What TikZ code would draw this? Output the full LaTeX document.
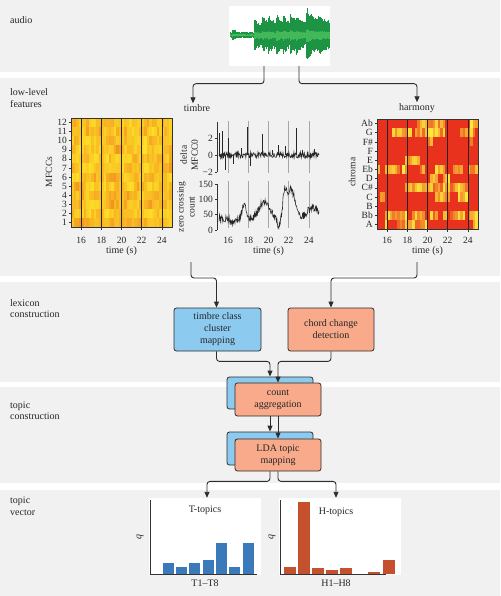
\documentclass[tikz,border=0pt]{standalone}
\usepackage{fontspec}
\setmainfont{Liberation Serif}
\usetikzlibrary{arrows.meta}
\definecolor{bandgray}{RGB}{241,241,241}
\definecolor{linec}{RGB}{45,45,45}
\definecolor{wdark}{RGB}{28,148,68}
\definecolor{wlight}{RGB}{66,184,88}
\definecolor{mY}{RGB}{255,236,40}
\definecolor{mO}{RGB}{240,128,30}
\definecolor{cY}{RGB}{255,240,60}
\definecolor{cR}{RGB}{232,50,30}
\definecolor{boxblue}{RGB}{140,202,240}
\definecolor{boxorange}{RGB}{248,170,138}
\definecolor{barblue}{RGB}{58,122,186}
\definecolor{barred}{RGB}{196,80,46}
\begin{document}
\begin{tikzpicture}[x=1pt,y=-1pt,
  every node/.style={font=\fontsize{10}{11.5}\selectfont, text=black!85},
  bandlabel/.style={anchor=west, align=left, inner sep=0pt},
  conn/.style={draw=linec, line width=0.9pt, rounded corners=3pt, -{Triangle[length=6pt,width=5pt]}},
  procbox/.style={draw=linec, line width=0.8pt, rounded corners=2.5pt, minimum width=86pt, align=center, inner sep=0pt, font=\fontsize{10}{12}\selectfont},
  tick/.style={inner sep=0pt, font=\fontsize{9.5}{10}\selectfont},
  rlabel/.style={rotate=90, align=center, inner sep=0pt, font=\fontsize{9.5}{11}\selectfont},
  axisline/.style={draw=black!80, line width=0.5pt},
  vline/.style={draw=black!85, line width=0.8pt},
  gline/.style={draw=black!35, line width=0.5pt},
  chart/.style={fill=white, inner sep=0pt, minimum height=77pt},
  declare function={gs(\t,\m,\s)=exp(-min(((\t-\m)/\s)^2,50));
                    ons(\t,\o,\a)=(\t>\o)*\a*exp(-max(\t-\o,0)/6);}
]
\useasboundingbox (0,0) rectangle (500,596);
\fill[white] (0,0) rectangle (500,596);
% bands
\fill[bandgray] (0,0) rectangle (500,72);
\fill[bandgray] (0,78) rectangle (500,276);
\fill[bandgray] (0,282) rectangle (500,382);
\fill[bandgray] (0,387) rectangle (500,483);
\fill[bandgray] (0,490) rectangle (500,596);
% band labels
\node[bandlabel] (lbaudio) at (10,20) {audio};
\node[bandlabel] (lbfeat) at (10,98) {low-level\\features};
\node[bandlabel] (lblex) at (10,308.5) {lexicon\\construction};
\node[bandlabel] (lbtc) at (10,410.5) {topic\\construction};
\node[bandlabel] (lbtv) at (10,506) {topic\\vector};

% ---------- audio ----------
\node[fill=white, minimum width=101pt, minimum height=60pt, inner sep=0pt] (audio) at (279.5,36) {};
\pgfmathsetseed{7}
\foreach \i in {0,...,197}{
  \pgfmathsetmacro\xx{230.5+\i*0.5}
  \pgfmathsetmacro\env{3+(\xx>232)*(\xx<236)*3+(\xx>254)*7+ons(\xx,254,8)+ons(\xx,262,9)+ons(\xx,268,8)+ons(\xx,276,10)+ons(\xx,283,7)+ons(\xx,290,10)+ons(\xx,296,8)+ons(\xx,306,15)+(\xx>306)*4+ons(\xx,318,6)}
  \pgfmathsetmacro\h{\env*(0.72+0.28*rnd)}
  \pgfmathsetmacro\hb{\env*(0.68+0.32*rnd)}
  \draw[wdark, line width=0.55pt] (\xx,{35-\h}) -- (\xx,{35+0.95*\hb});
  \draw[wlight, line width=0.55pt] (\xx,{35-0.22*\h}) -- (\xx,{35+0.28*\hb});
}

% ---------- labels timbre / harmony ----------
\node[inner sep=1pt] (timbre) at (197,108) {timbre};
\node[inner sep=1pt] (harmony) at (417,108) {harmony};
\draw[conn] ([xshift=-15.5pt]audio.south) -- ++(0,17.5) -| ([xshift=-4pt]timbre.north);
\draw[conn] ([xshift=19.5pt]audio.south) -- ++(0,17.5) -| (harmony.north);

% ---------- MFCC heatmap ----------
\foreach \r in {1,...,12}{
  \xdef\prevp{70}
  \foreach \c in {0,...,39}{
    \pgfmathtruncatemacro\p{0.45*\prevp+0.55*100*rnd^0.6}
    \xdef\prevp{\p}
    \fill[mY!\p!mO] ({71+\c*2.525},{227-\r*9.0833}) rectangle ++(2.6,9.12);
  }
  \draw[axisline] (71,{227-(\r-0.5)*9.0833}) -- ++(-2.5,0);
  \node[tick, anchor=east] at (67,{227-(\r-0.5)*9.0833}) {\r};
}
\foreach \t in {16,18,...,24}{
  \draw[vline] ({71+(\t-15)*10.1},118) -- ({71+(\t-15)*10.1},227);
  \draw[axisline] ({71+(\t-15)*10.1},227) -- ++(0,2.5);
  \node[tick] at ({71+(\t-15)*10.1},240) {\t};
}
\draw[axisline] (71,118) rectangle (172,227);
\node (mfcclab) at (121.5,251) {time (s)};
\node[rlabel] (mfccy) at (49,172) {MFCCs};

% ---------- chroma heatmap ----------
\foreach \nm/\th [count=\i] in {Ab/.1,G/.75,F\#/.08,F/.05,E/.05,Eb/.75,D/.12,C\#/.05,C/.25,B/.12,Bb/.5,A/.15}{
  \xdef\prevon{0}
  \foreach \c in {0,...,39}{
    \pgfmathtruncatemacro\on{\prevon==1 ? (rnd<0.8) : (rnd<\th*0.55)}
    \xdef\prevon{\on}
    \pgfmathtruncatemacro\p{\on*(25+75*rnd)}
    \fill[cY!\p!cR] ({377+\c*2.525},{119+(\i-1)*9.1667}) rectangle ++(2.6,9.2);
  }
  \draw[axisline] (377,{119+(\i-0.5)*9.1667}) -- ++(-2.5,0);
  \node[tick, anchor=east] at (373,{119+(\i-0.5)*9.1667}) {\nm};
}
\foreach \t in {16,18,...,24}{
  \draw[vline] ({377+(\t-15)*10.1},119) -- ({377+(\t-15)*10.1},229);
  \draw[axisline] ({377+(\t-15)*10.1},229) -- ++(0,2.5);
  \node[tick] at ({377+(\t-15)*10.1},240) {\t};
}
\draw[axisline] (377,119) rectangle (478,229);
\node (chromalab) at (427.5,251) {time (s)};
\node[rlabel] (chromay) at (352,172) {chroma};

% ---------- middle plots ----------
\foreach \t in {16,18,...,24}{
  \draw[gline] ({218+(\t-15)*10.1},121) -- ({218+(\t-15)*10.1},173);
  \draw[gline] ({218+(\t-15)*10.1},181) -- ({218+(\t-15)*10.1},228);
  \node[tick] at ({218+(\t-15)*10.1},240) {\t};
}
\node (midlab) at (268.5,251) {time (s)};
% delta MFCC0
\draw[black!85, line width=0.6pt] plot[domain=15.1:25, samples=240] ({218+(\x-15)*10.1},{155-8.5*0.35*rand});
\foreach \t/\v in {15.1/2.6,15.4/2.8,15.7/-1.8,16.0/2.0,16.5/-1.0,17.3/0.8,17.9/3.3,18.2/-1.3,19.4/2.5,20.4/0.6,21.0/1.2,21.7/1.0,22.8/3.2,23.3/0.6,24.5/0.7}{
  \draw[black!85, line width=0.6pt] ({218+(\t-15)*10.1},155) -- ({218+(\t-15)*10.1},{155-8.5*\v});
}
\draw[axisline] (217,122) -- (217,172);
\foreach \v/\lab in {2/2,0/0,-2/−2}{
  \draw[axisline] (217,{155-8.5*\v}) -- ++(-2.5,0);
  \node[tick, anchor=east] at (213,{155-8.5*\v}) {\lab};
}
\node[rlabel] (dlab) at (189,155) {delta\\MFCC0};
% zero crossing
\draw[black!85, line width=0.6pt]
  plot[domain=15.1:25, samples=220] ({218+(\x-15)*10.1},
  {230-0.307*(38+45*gs(\x,17.6,0.3)+55*gs(\x,19.6,0.7)+95*gs(\x,22.2,0.6)+60*gs(\x,21.6,0.25)+35*gs(\x,24.4,0.8)-15*gs(\x,16.5,0.3)-25*gs(\x,21.0,0.25)+12*rand)});
\draw[axisline] (217,184) -- (217,230);
\foreach \v in {0,50,100,150}{
  \draw[axisline] (217,{230-0.307*\v}) -- ++(-2.5,0);
  \node[tick, anchor=east] at (213,{230-0.307*\v}) {\v};
}
\node[rlabel] (zlab) at (186,207) {zero crossing\\count};

% ---------- lexicon ----------
\coordinate (tout) at (191,262);
\coordinate (hout) at (417,262);
\node[procbox, fill=boxblue, minimum width=87pt, minimum height=43pt] (tbox) at (217.5,329.5) {timbre class\\cluster\\mapping};
\node[procbox, fill=boxorange, minimum width=86pt, minimum height=43pt] (cbox) at (331,329.5) {chord change\\detection};
\draw[conn] (tout) -- ++(0,16) -| ([xshift=-1pt]tbox.north);
\draw[conn] (hout) -- ++(0,16) -| (cbox.north);

% ---------- topic construction ----------
\node[procbox, fill=boxblue, minimum height=32pt] (cab) at (270,393) {};
\node[procbox, fill=boxorange, minimum height=33pt] (caf) at (278,399.5) {count\\aggregation};
\draw[conn] ([xshift=-1pt]tbox.south) -- ++(0,10) -| (cab.north);
\draw[conn] (cbox.south) -- ++(0,10) -| (caf.north);
\node[procbox, fill=boxblue, minimum height=33pt] (lb) at (270,448.5) {};
\node[procbox, fill=boxorange, minimum height=32pt] (lf) at (278,455) {LDA topic\\mapping};
\draw[conn] (caf.south -| cab.center) -- (lb.north);
\draw[conn] (caf.south) -- (lf.north);

% ---------- topic vectors ----------
\node[chart, minimum width=112pt] (tchart) at (205,536.5) {};
\node[chart, minimum width=122pt] (hchart) at (340,536.5) {};
\draw[conn] (lf.south -| lb.center) -- ++(0,10) -| ([xshift=2pt]tchart.north);
\draw[conn] (lf.south) -- ++(0,10) -| ([xshift=-4pt]hchart.north);
% T bars
\foreach \xb/\hb in {163/11,176/7,189.3/11,202.7/14,216/31,229.3/7,242.7/31}{
  \fill[barblue] (\xb,574) rectangle ++(11,-\hb);
}
\draw[axisline, line width=0.6pt] (150,500) -- (150,574) -- (257,574);
\node (ttitle) at (205,510) {T-topics};
\node[rotate=90] (tq) at (140,537) {\textit{q}};
\node (tx) at (205,583) {T1–T8};
% H bars
\foreach \xb/\hb in {284/7,298/72,312/6,326/4,340/6,368/2,383/14}{
  \fill[barred] (\xb,574) rectangle ++(11.5,-\hb);
}
\draw[axisline, line width=0.6pt] (280,500) -- (280,574) -- (386,574);
\node (httitle) at (336,512) {H-topics};
\node[rotate=90] (hq) at (272,537) {\textit{q}};
\node (hx) at (336,583) {H1–H8};
\end{tikzpicture}
\end{document}
